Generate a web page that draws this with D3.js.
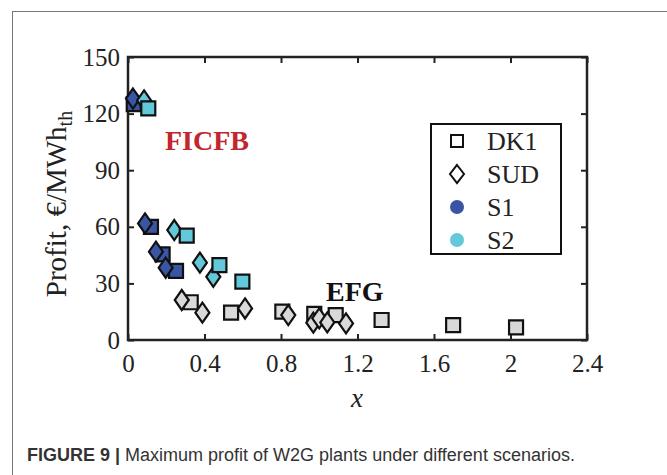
<!DOCTYPE html>
<html>
<head>
<meta charset="utf-8">
<script src="https://cdn.jsdelivr.net/npm/d3@7"></script>
<style>
  body { margin: 0; background: #fff; }
  svg { display: block; }
</style>
</head>
<body>
<div id="chart"></div>
<script>
// data: [x, profit]
const s1DK1 = [[0.03, 125], [0.12, 60], [0.181, 45.4], [0.251, 36.6]];
const s1SUD = [[0.026, 128], [0.089, 61.8], [0.146, 46.8], [0.197, 38.3]];
const s2SUD = [[0.084, 127], [0.242, 58.3], [0.376, 41], [0.446, 33.5]];
const s2DK1 = [[0.106, 122.8], [0.307, 55.3], [0.478, 39.7], [0.598, 30.9]];
const efgDK1 = [[0.328, 20], [0.539, 14.5], [0.807, 15], [0.974, 13.8], [1.086, 13.2], [1.326, 10.6], [1.70, 7.9], [2.029, 6.7]];
const efgSUD = [[0.281, 21.2], [0.389, 14.5], [0.612, 16.7], [0.838, 13.2], [0.969, 9.2], [1.0, 11.5], [1.042, 9.3], [1.14, 8.8]];

const xTicks = [0, 0.4, 0.8, 1.2, 1.6, 2, 2.4];
const yTicks = [0, 30, 60, 90, 120, 150];
const legendLabels = ["DK1", "SUD", "S1", "S2"];

const w = 667;
const h = 475;
const plotLeft = 128, plotRight = 587, plotTop = 57, plotBottom = 340;

const colS1 = "#3b55a5";
const colS2 = "#63c8d9";
const colGray = "#d9d9d9";
const serif = "'Liberation Serif', 'Times New Roman', serif";

const svg = d3.select("#chart")
    .append("svg")
    .attr("width", w)
    .attr("height", h);

// outer frame around figure
svg.append("rect")
    .attr("x", 12.5).attr("y", 11.5)
    .attr("width", 670).attr("height", 480)
    .attr("fill", "none")
    .attr("stroke", "#777")
    .attr("stroke-width", 1);

const x = d3.scaleLinear().domain([0, 2.4]).range([plotLeft, plotRight]);
const y = d3.scaleLinear().domain([0, 150]).range([plotBottom, plotTop]);

// axes, ticks pointing inwards on all four sides
const axisStyle = function (g) {
    g.attr("font-family", null).attr("font-size", null);
    g.select(".domain").remove();
    g.selectAll("line").attr("stroke", "#222").attr("stroke-width", 2);
    g.selectAll("text")
        .style("font-family", serif)
        .style("font-size", "25px")
        .attr("fill", "#222");
};

svg.append("g")
    .attr("transform", "translate(0," + plotBottom + ")")
    .call(d3.axisBottom(x).tickValues(xTicks).tickSize(-6).tickPadding(14).tickFormat(d3.format("")))
    .call(axisStyle);

svg.append("g")
    .attr("transform", "translate(0," + plotTop + ")")
    .call(d3.axisTop(x).tickValues(xTicks).tickSize(-6).tickFormat(""))
    .call(axisStyle);

svg.append("g")
    .attr("transform", "translate(" + plotLeft + ",0)")
    .call(d3.axisLeft(y).tickValues(yTicks).tickSize(-6).tickPadding(8))
    .call(axisStyle);

svg.append("g")
    .attr("transform", "translate(" + plotRight + ",0)")
    .call(d3.axisRight(y).tickValues(yTicks).tickSize(-6).tickFormat(""))
    .call(axisStyle);

svg.append("rect")
    .attr("x", plotLeft).attr("y", plotTop)
    .attr("width", plotRight - plotLeft).attr("height", plotBottom - plotTop)
    .attr("fill", "none")
    .attr("stroke", "#222")
    .attr("stroke-width", 2.5);

// marker shapes
const squarePath = "M-7,-7H7V7H-7Z";
const diamondPath = "M0,-10L7,0L0,10L-7,0Z";

function drawPoints(data, path, fill) {
    svg.append("g")
        .selectAll("path")
        .data(data)
        .enter()
        .append("path")
        .attr("transform", d => "translate(" + x(d[0]) + "," + y(d[1]) + ")")
        .attr("d", path)
        .attr("fill", fill)
        .attr("stroke", "#111")
        .attr("stroke-width", 2.2)
        .attr("stroke-linejoin", "miter");
}

drawPoints(efgDK1, squarePath, colGray);
drawPoints(efgSUD, diamondPath, colGray);
drawPoints(s1DK1, squarePath, colS1);
drawPoints(s1SUD, diamondPath, colS1);
drawPoints(s2SUD, diamondPath, colS2);
drawPoints(s2DK1, squarePath, colS2);

// annotations
svg.append("text")
    .attr("x", 165).attr("y", 150)
    .style("font-family", serif)
    .attr("font-weight", "bold")
    .attr("font-size", 28)
    .attr("fill", "#c1272d")
    .text("FICFB");

svg.append("text")
    .attr("x", 326).attr("y", 301)
    .style("font-family", serif)
    .attr("font-weight", "bold")
    .attr("font-size", 28)
    .attr("fill", "#111")
    .text("EFG");

// axis titles
svg.append("text")
    .attr("x", 357).attr("y", 407)
    .attr("text-anchor", "middle")
    .style("font-family", serif)
    .attr("font-style", "italic")
    .attr("font-size", 27)
    .attr("fill", "#222")
    .text("x");

const yLab = svg.append("text")
    .attr("transform", "translate(66,204) rotate(-90)")
    .attr("text-anchor", "middle")
    .style("font-family", serif)
    .attr("font-size", 29)
    .attr("fill", "#222");
yLab.append("tspan").text("Profit, €/MWh");
yLab.append("tspan").attr("font-size", 20).attr("dy", 6).text("th");

// legend
const legend = svg.append("g");
legend.append("rect")
    .attr("x", 431).attr("y", 124)
    .attr("width", 130).attr("height", 130)
    .attr("fill", "#fff")
    .attr("stroke", "#111")
    .attr("stroke-width", 2);

const legendY = d3.scalePoint().domain(legendLabels).range([141, 240]);

legend.append("path")
    .attr("transform", "translate(457," + legendY("DK1") + ")")
    .attr("d", "M-6,-6H6V6H-6Z")
    .attr("fill", "#fff").attr("stroke", "#111").attr("stroke-width", 2);
legend.append("path")
    .attr("transform", "translate(457," + legendY("SUD") + ")")
    .attr("d", "M0,-9L7,0L0,9L-7,0Z")
    .attr("fill", "#fff").attr("stroke", "#111").attr("stroke-width", 2);
legend.append("circle")
    .attr("cx", 457).attr("cy", legendY("S1")).attr("r", 7)
    .attr("fill", colS1);
legend.append("circle")
    .attr("cx", 457).attr("cy", legendY("S2")).attr("r", 7)
    .attr("fill", colS2);

legend.selectAll("text")
    .data(legendLabels)
    .enter()
    .append("text")
    .attr("x", 487)
    .attr("y", d => legendY(d) + 9)
    .style("font-family", serif)
    .attr("font-size", 26)
    .attr("fill", "#222")
    .text(d => d);

// caption
const cap = svg.append("text")
    .attr("x", 27).attr("y", 461)
    .style("font-family", "'Liberation Sans', Arial, sans-serif")
    .attr("font-size", 18)
    .attr("fill", "#333");
cap.append("tspan").attr("font-weight", "bold").text("FIGURE 9 | ");
cap.append("tspan").text("Maximum profit of W2G plants under different scenarios.");
</script>
</body>
</html>
